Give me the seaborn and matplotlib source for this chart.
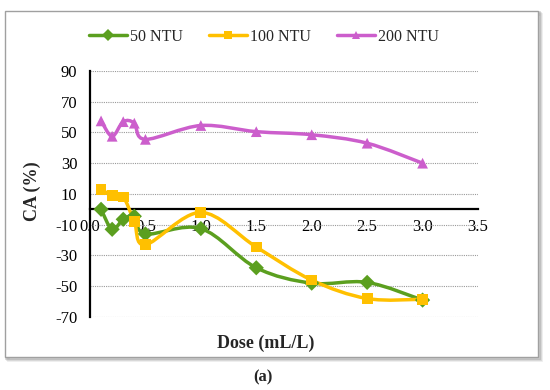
import numpy as np
import pandas as pd
import matplotlib
matplotlib.use("Agg")
import matplotlib.pyplot as plt
import seaborn as sns
from matplotlib.path import Path
from matplotlib.patches import PathPatch, Rectangle
from matplotlib.lines import Line2D

dose = [0.1, 0.2, 0.3, 0.4, 0.5, 1.0, 1.5, 2.0, 2.5, 3.0]
ca_50 = [0, -13, -6.5, -4.5, -16, -12.5, -38, -48, -47.5, -59]
ca_100 = [13, 9, 8, -8, -23, -2, -24.5, -46, -58, -58.5]
ca_200 = [57.5, 47.5, 57, 56, 45.5, 54.5, 50.5, 48.5, 43, 30]
series = ["50 NTU", "100 NTU", "200 NTU"]
colors = ["#5B9F1F", "#FFC000", "#CC5ECC"]
markers = ["D", "s", "^"]
yticks = [-70, -50, -30, -10, 10, 30, 50, 70, 90]
xticks = [0.0, 0.5, 1.0, 1.5, 2.0, 2.5, 3.0, 3.5]

df = pd.DataFrame({
    "dose": dose * 3,
    "ca": ca_50 + ca_100 + ca_200,
    "series": sum([[s] * len(dose) for s in series], []),
})

sns.set_theme(style="white")
plt.rcParams["font.family"] = ["Liberation Serif", "DejaVu Serif"]

fig = plt.figure(figsize=(5.5, 3.9), dpi=100)

# outer frame with shadow
for off, a in [(0.006, 0.15), (0.004, 0.2), (0.002, 0.3)]:
    fig.patches.append(Rectangle((0.009 + off, 0.0846 - off * 1.4), 0.969, 0.887,
                                 transform=fig.transFigure, facecolor="none",
                                 edgecolor=(0.5, 0.5, 0.5, a), linewidth=2.0, zorder=-3))
fig.patches.append(Rectangle((0.009, 0.0846), 0.969, 0.887, transform=fig.transFigure,
                             facecolor="white", edgecolor="#A0A0A0", linewidth=1.0, zorder=-2))

ax = fig.add_axes([0.1636, 0.1872, 0.7055, 0.631])
ax.set_facecolor("none")
ax.set_zorder(1)


def smooth_path(xs, ys):
    pts = np.column_stack([xs, ys]).astype(float)
    n = len(pts)
    verts = [pts[0]]
    codes = [Path.MOVETO]
    for i in range(n - 1):
        p0 = pts[i - 1] if i > 0 else pts[i]
        p1 = pts[i]
        p2 = pts[i + 1]
        p3 = pts[i + 2] if i + 2 < n else pts[i + 1]
        c1 = p1 + (p2 - p0) / 6.0
        c2 = p2 - (p3 - p1) / 6.0
        verts += [c1, c2, p2]
        codes += [Path.CURVE4] * 3
    return Path(verts, codes)


for s, ys, c in zip(series, [ca_50, ca_100, ca_200], colors):
    ax.add_patch(PathPatch(smooth_path(dose, ys), facecolor="none", edgecolor=c,
                           linewidth=2.5, zorder=3, capstyle="round", joinstyle="round"))

sns.scatterplot(data=df, x="dose", y="ca", hue="series", style="series",
                palette=dict(zip(series, colors)), markers=dict(zip(series, markers)),
                s=60, edgecolor="none", ax=ax, zorder=4, legend=False)

ax.set_xlim(0, 3.5)
ax.set_ylim(-70, 90)
ax.set_yticks(yticks)
ax.set_xticks(xticks)
ax.set_xticklabels([f"{v:.1f}" for v in xticks])
ax.set_yticklabels([str(v) for v in yticks])

for y in yticks:
    ax.axhline(y, color="#9A9A9A", linestyle=(0, (1, 1)), linewidth=0.8, zorder=1)

ax.spines["top"].set_visible(False)
ax.spines["right"].set_visible(False)
ax.spines["left"].set_linewidth(1.6)
ax.spines["bottom"].set_linewidth(1.6)
ax.spines["left"].set_color("black")
ax.spines["bottom"].set_color("black")
ax.spines["bottom"].set_position(("data", 0))
ax.tick_params(axis="both", direction="out", length=5, width=1.6, color="black",
               labelsize=12, labelcolor="black")
ax.tick_params(axis="x", pad=2)
ax.tick_params(axis="y", pad=4)
ax.set_xlabel("")
ax.set_ylabel("")

fig.text(0.058, 0.51, "CA (%)", rotation=90, ha="center", va="center",
         fontsize=13, fontweight="bold")
fig.text(0.483, 0.12, "Dose (mL/L)", ha="center", va="center",
         fontsize=13, fontweight="bold")
fig.text(0.478, 0.033, "(a)", ha="center", va="center", fontsize=12,
         fontweight="bold")

handles = [Line2D([0], [0], color=c, marker=m, linewidth=2.5, markersize=6,
                  markeredgewidth=0) for c, m in zip(colors, markers)]
fig.legend(handles, series, loc="center", bbox_to_anchor=(0.48, 0.905), ncol=3,
           frameon=False, fontsize=11.5, handlelength=2.4, columnspacing=1.6,
           handletextpad=0.2)

fig.savefig("out.png", dpi=100)
